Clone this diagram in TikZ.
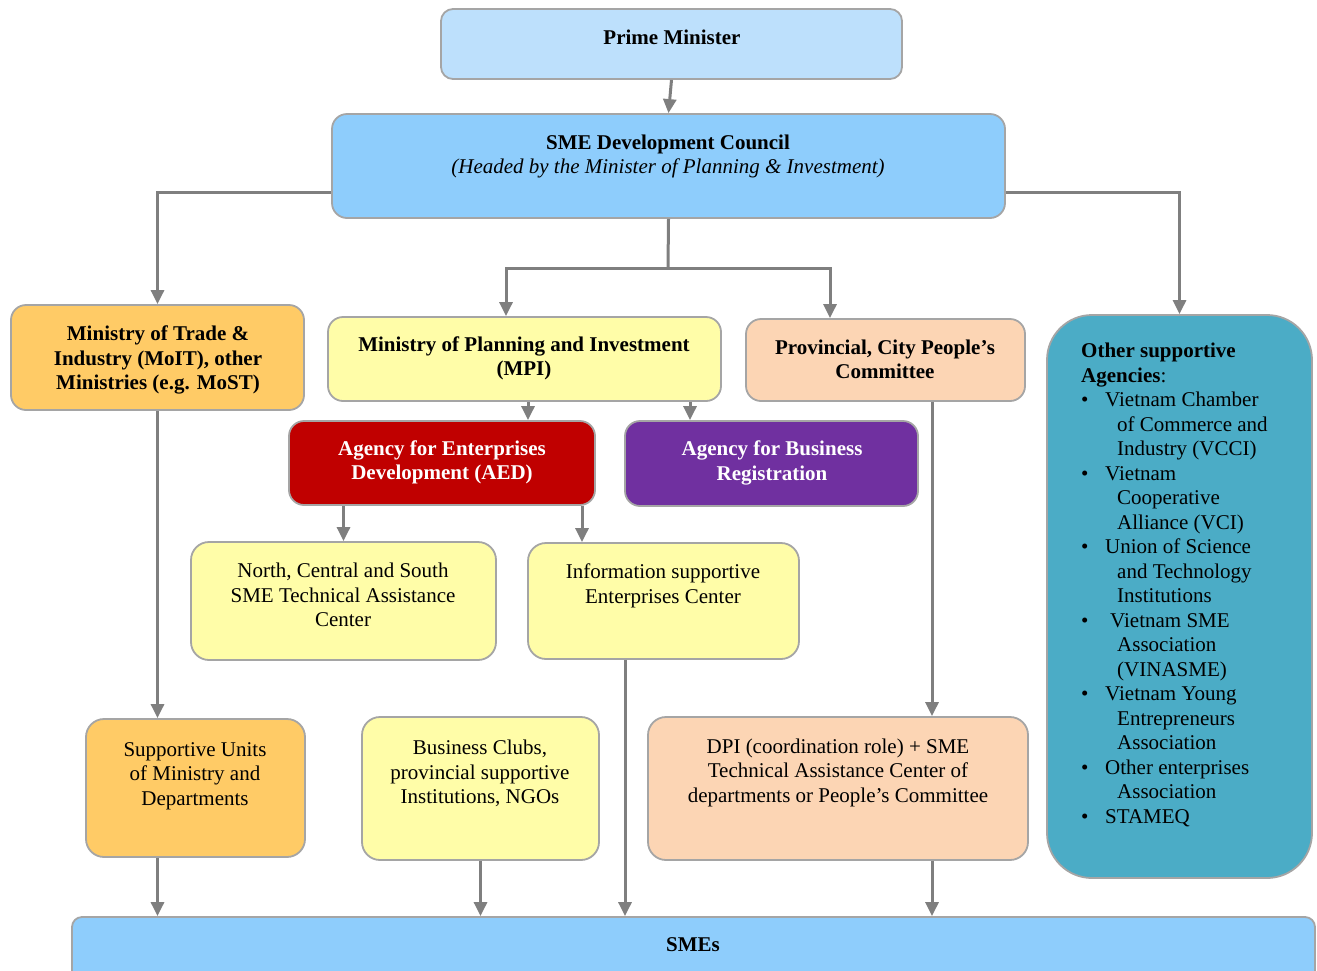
\documentclass[tikz,border=0pt]{standalone}
\usepackage{fontspec}
\setmainfont{Liberation Serif}
\usetikzlibrary{arrows.meta}

\definecolor{pmblue}{RGB}{189,224,252}
\definecolor{smeblue}{RGB}{142,205,252}
\definecolor{mingold}{RGB}{255,203,102}
\definecolor{paleyel}{RGB}{255,253,168}
\definecolor{peach}{RGB}{252,213,180}
\definecolor{teal}{RGB}{75,172,198}
\definecolor{aedred}{RGB}{192,0,0}
\definecolor{abrpurple}{RGB}{112,48,160}
\definecolor{boxline}{RGB}{165,165,165}
\definecolor{arrgray}{RGB}{127,127,127}

\tikzset{
  box/.style={draw=boxline, line width=1.8pt, rounded corners=15pt, inner sep=0pt},
  arr/.style={draw=arrgray, line width=3pt, -{Triangle[length=14pt,width=13pt]}},
  ln/.style={draw=arrgray, line width=3pt},
  txt/.style={align=center, inner sep=0pt},
}

\newcommand{\itm}{\makebox[24pt][l]{\textbullet}}
\newcommand{\cnt}{\hspace*{36pt}}

\begin{document}
\begin{tikzpicture}[x=1pt, y=-1pt, font=\fontsize{21}{24.5}\selectfont]

  \useasboundingbox (0,0) rectangle (1317,970);

  % boxes
  \node[box, fill=pmblue, minimum width=461pt, minimum height=70pt, rounded corners=12pt] (pm) at (671.5,44) {};
  \node[box, fill=smeblue, minimum width=673pt, minimum height=104pt] (council) at (668.5,166) {};
  \node[box, fill=mingold, minimum width=293pt, minimum height=105pt] (moit) at (157.5,357.5) {};
  \node[box, fill=paleyel, minimum width=393pt, minimum height=84pt] (mpi) at (524.5,359) {};
  \node[box, fill=peach, minimum width=279pt, minimum height=82pt] (prov) at (885.5,360) {};
  \node[box, fill=teal, minimum width=265pt, minimum height=563pt, rounded corners=45pt] (other) at (1179.5,596.5) {};
  \node[box, fill=aedred, minimum width=306pt, minimum height=84pt] (aed) at (442,463) {};
  \node[box, fill=abrpurple, minimum width=293pt, minimum height=85pt] (abr) at (771.5,463.5) {};
  \node[box, fill=paleyel, minimum width=305pt, minimum height=118pt, rounded corners=18pt] (north) at (343.5,601) {};
  \node[box, fill=paleyel, minimum width=271pt, minimum height=116pt, rounded corners=18pt] (info) at (663.5,601) {};
  \node[box, fill=mingold, minimum width=219pt, minimum height=138pt, rounded corners=18pt] (supp) at (195.5,788) {};
  \node[box, fill=paleyel, minimum width=237pt, minimum height=143pt, rounded corners=18pt] (bc) at (480.5,788.5) {};
  \node[box, fill=peach, minimum width=380pt, minimum height=143pt, rounded corners=18pt] (dpi) at (838,788.5) {};
  \node[box, fill=smeblue, minimum width=1243pt, minimum height=68pt, rounded corners=10pt] (smes) at (693.5,951) {};

  % texts
  \node[txt] (pmt) at (672,37) {\textbf{Prime Minister}};
  \node[txt] (councilt) at (668,156.5) {\textbf{SME Development Council}\\
    \textit{(Headed by the Minister of Planning \& Investment)}};
  \node[txt] (moitt) at (158,360) {\textbf{Ministry of Trade \&}\\
    \textbf{Industry (MoIT), other}\\ \textbf{Ministries (e.g. MoST)}};
  \node[txt] (mpit) at (524,358.5) {\textbf{Ministry of Planning and Investment}\\ \textbf{(MPI)}};
  \node[txt] (provt) at (885,359.5) {\textbf{Provincial, City People’s}\\ \textbf{Committee}};
  \node[txt, text=white] (aedt) at (442,462.5) {\textbf{Agency for Enterprises}\\ \textbf{Development (AED)}};
  \node[txt, text=white] (abrt) at (772,463) {\textbf{Agency for Business}\\ \textbf{Registration}};
  \node[txt] (northt) at (343,595) {North, Central and South\\ SME Technical Assistance\\ Center};
  \node[txt] (infot) at (663,586) {Information supportive\\ Enterprises Center};
  \node[txt] (suppt) at (195,776) {Supportive Units\\ of Ministry and\\ Departments};
  \node[txt] (bct) at (480,773.5) {Business Clubs,\\ provincial supportive\\ Institutions, NGOs};
  \node[txt] (dpit) at (838,772.5) {DPI (coordination role) + SME\\ Technical Assistance Center of\\ departments or People’s Committee};
  \node[txt] (smest) at (693,945) {\textbf{SMEs}};
  \node[align=left, inner sep=0pt, anchor=north west] (othert) at (1081,343) {%
    \textbf{Other supportive}\\
    \textbf{Agencies}:\\
    \itm Vietnam Chamber\\
    \cnt of Commerce and\\
    \cnt Industry (VCCI)\\
    \itm Vietnam\\
    \cnt Cooperative\\
    \cnt Alliance (VCI)\\
    \itm Union of Science\\
    \cnt and Technology\\
    \cnt Institutions\\
    \itm\hspace*{5pt}Vietnam SME\\
    \cnt Association\\
    \cnt (VINASME)\\
    \itm Vietnam Young\\
    \cnt Entrepreneurs\\
    \cnt Association\\
    \itm Other enterprises\\
    \cnt Association\\
    \itm STAMEQ};

  % helper points
  \coordinate (split) at (668,268);
  \coordinate (m1) at ([xshift=-18.5pt]mpi.north);
  \coordinate (p0) at ([xshift=-55.5pt]prov.north);
  \coordinate (m2) at ([xshift=3.5pt]mpi.south);
  \coordinate (m3) at ([xshift=165.5pt]mpi.south);
  \coordinate (a1) at ([xshift=140pt]aed.south);
  \coordinate (p1) at ([xshift=46.5pt]prov.south);
  \coordinate (i1) at ([xshift=-38.5pt]info.south);

  % arrows
  \draw[arr] (pm.south) -- (council.north);
  \draw[arr] ([yshift=-26pt]council.west) -| (moit.north);
  \draw[arr] ([yshift=-26pt]council.east) -| (other.north);
  \draw[ln] (council.south) -- (split);
  \draw[arr] (split) -| (m1);
  \draw[arr] (split) -| (p0);
  \draw[arr] (m2) -- (m2 |- aed.north);
  \draw[arr] (m3) -- (m3 |- abr.north);
  \draw[arr] (north.north |- aed.south) -- (north.north);
  \draw[arr] (a1) -- (a1 |- info.north);
  \draw[arr] (moit.south) -- (moit.south |- supp.north);
  \draw[arr] (p1) -- (p1 |- dpi.north);
  \draw[arr] (moit.south |- supp.south) -- (moit.south |- smes.north);
  \draw[arr] (bc.south) -- (bc.south |- smes.north);
  \draw[arr] (i1) -- (i1 |- smes.north);
  \draw[arr] (p1 |- dpi.south) -- (p1 |- smes.north);

\end{tikzpicture}
\end{document}
